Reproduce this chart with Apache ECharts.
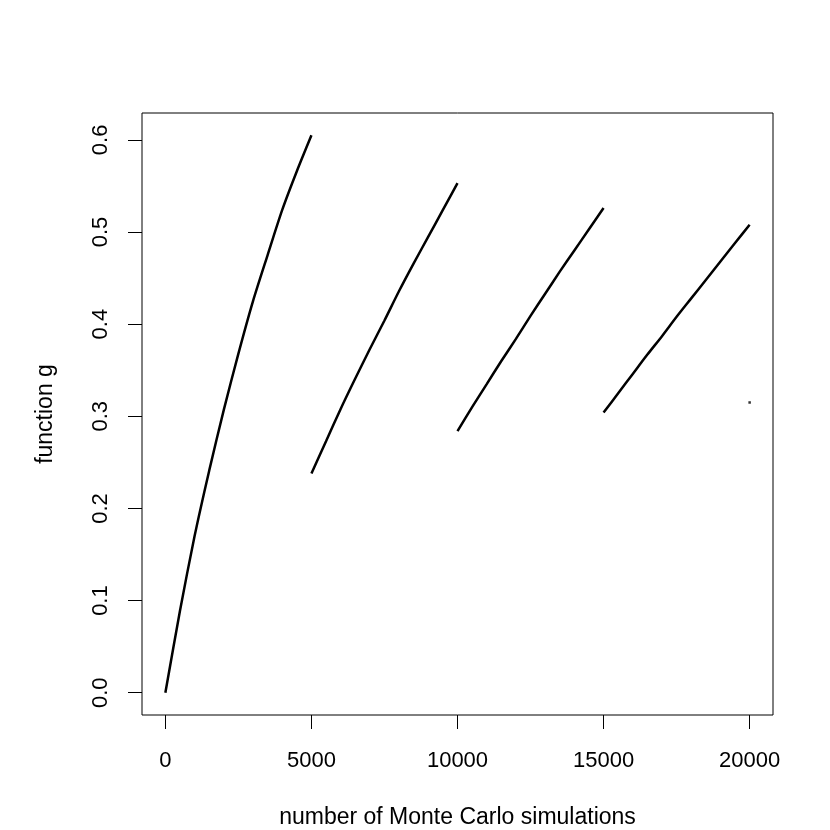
<!DOCTYPE html>
<html>
<head>
<meta charset="utf-8">
<script src="https://cdn.jsdelivr.net/npm/echarts@6/dist/echarts.min.js"></script>
<style>
html,body{margin:0;padding:0;background:#fff;}
#c{width:830px;height:830px;}
</style>
</head>
<body>
<div id="c"></div>
<script>
// Number of simulations (x) for each segment
var seg1X = [0, 500, 1000, 1500, 2000, 2500, 3000, 3500, 4000, 4500, 5000];
var seg1Y = [0, 0.089, 0.170, 0.241, 0.307, 0.368, 0.425, 0.475, 0.524, 0.566, 0.605];
var seg2X = [5000, 5500, 6000, 6500, 7000, 7500, 8000, 8500, 9000, 9500, 10000];
var seg2Y = [0.238, 0.273, 0.308, 0.341, 0.373, 0.404, 0.436, 0.466, 0.495, 0.524, 0.553];
var seg3X = [10000, 10500, 11000, 11500, 12000, 12500, 13000, 13500, 14000, 14500, 15000];
var seg3Y = [0.284, 0.310, 0.335, 0.360, 0.384, 0.409, 0.433, 0.457, 0.480, 0.503, 0.526];
var seg4X = [15000, 15500, 16000, 16500, 17000, 17500, 18000, 18500, 19000, 19500, 20000];
var seg4Y = [0.304, 0.325, 0.346, 0.367, 0.387, 0.408, 0.428, 0.448, 0.468, 0.488, 0.508];
var lastX = [20000];
var lastY = [0.315];

var xTicks = [0, 5000, 10000, 15000, 20000];
var yTicks = [0, 0.1, 0.2, 0.3, 0.4, 0.5, 0.6];
var xTitle = 'number of Monte Carlo simulations';
var yTitle = 'function g';

function pairs(xs, ys) { return xs.map(function (x, i) { return [x, ys[i]]; }); }

var FONT = 'Liberation Sans, Arial, Helvetica, sans-serif';
var chart = echarts.init(document.getElementById('c'), null, {renderer: 'canvas'});

function lineSeries(xs, ys) {
  return {
    type: 'line', data: pairs(xs, ys), showSymbol: false, symbol: 'none',
    smooth: 0.25,
    lineStyle: {color: '#000', width: 2.5}, silent: true, animation: false
  };
}

chart.setOption({
  animation: false,
  backgroundColor: '#fff',
  grid: {left: 142, right: 57, top: 113, bottom: 115, outerBoundsMode: 'none', containLabel: false,
    show: true, borderColor: '#000', borderWidth: 1, backgroundColor: 'transparent'},
  xAxis: {
    type: 'value', min: -800, max: 20800,
    name: xTitle, nameLocation: 'middle', nameGap: 91,
    nameTextStyle: {color: '#000', fontSize: 23, fontFamily: FONT},
    axisLine: {show: false, onZero: false},
    splitLine: {show: false},
    axisTick: {show: true, inside: false, customValues: xTicks, length: 14, lineStyle: {color: '#000', width: 1}},
    axisLabel: {customValues: xTicks, color: '#000', fontSize: 22, fontFamily: FONT, margin: 35,
      formatter: function (v) { return String(v); }}
  },
  yAxis: {
    type: 'value', min: -0.0242, max: 0.6292,
    name: yTitle, nameLocation: 'middle', nameGap: 85, nameRotate: 90,
    nameTextStyle: {color: '#000', fontSize: 23, fontFamily: FONT},
    axisLine: {show: false, onZero: false},
    splitLine: {show: false},
    axisTick: {show: true, inside: false, customValues: yTicks, length: 14, lineStyle: {color: '#000', width: 1}},
    axisLabel: {customValues: yTicks, rotate: 90, color: '#000', fontSize: 22, fontFamily: FONT, margin: 30,
      formatter: function (v) { return v.toFixed(1); }}
  },
  series: [
    lineSeries(seg1X, seg1Y),
    lineSeries(seg2X, seg2Y),
    lineSeries(seg3X, seg3Y),
    lineSeries(seg4X, seg4Y),
    {type: 'scatter', data: pairs(lastX, lastY), symbol: 'rect', symbolSize: 2.5,
     itemStyle: {color: '#000'}, silent: true}
  ]
});
</script>
</body>
</html>
